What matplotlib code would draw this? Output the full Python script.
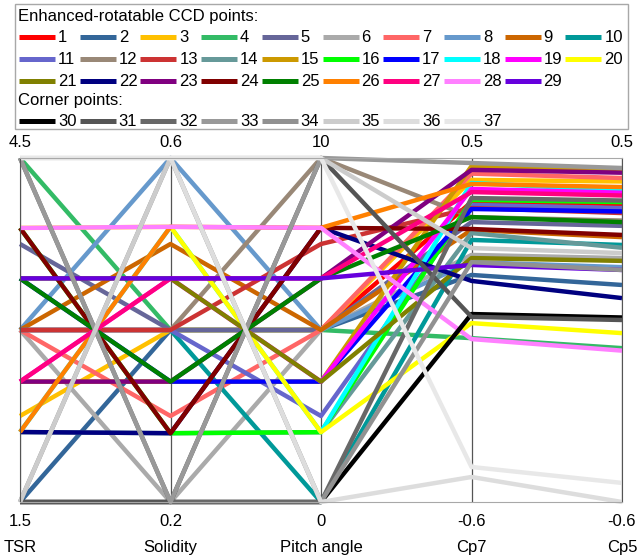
import matplotlib.pyplot as plt
from matplotlib.patches import Rectangle

plt.rcParams['font.family'] = ['Liberation Sans', 'DejaVu Sans']

axis_names = ['TSR', 'Solidity', 'Pitch angle', 'Cp7', 'Cp5']
axis_min = [1.5, 0.2, 0.0, -0.6, -0.6]
axis_max = [4.5, 0.6, 10.0, 0.5, 0.5]
min_labels = ['1.5', '0.2', '0', '-0.6', '-0.6']
max_labels = ['4.5', '0.6', '10', '0.5', '0.5']

# design points 1-29 (enhanced-rotatable CCD) and 30-37 (cube corners)
tsr = [3.0, 1.5, 2.25, 4.5, 3.75, 3.0, 3.0, 3.0, 3.0, 3.0, 3.0, 3.0, 3.0,
       2.11, 2.55, 3.89, 3.45, 2.11, 2.55, 3.89, 3.45,
       2.11, 2.55, 3.89, 3.45, 2.11, 2.55, 3.89, 3.45,
       1.5, 1.5, 4.5, 4.5, 1.5, 1.5, 4.5, 4.5]
solidity = [0.4, 0.4, 0.4, 0.4, 0.4, 0.2, 0.3, 0.6, 0.5, 0.4, 0.4, 0.4, 0.4,
            0.28, 0.34, 0.28, 0.34, 0.52, 0.46, 0.52, 0.46,
            0.28, 0.34, 0.28, 0.34, 0.52, 0.46, 0.52, 0.46,
            0.2, 0.2, 0.2, 0.2, 0.6, 0.6, 0.6, 0.6]
pitch = [5, 5, 5, 5, 5, 5, 5, 5, 5, 0, 2.5, 10, 7.5,
         2.03, 3.5, 2.03, 3.5, 2.03, 3.5, 2.03, 3.5,
         7.97, 6.5, 7.97, 6.5, 7.97, 6.5, 7.97, 6.5,
         0, 10, 0, 10, 0, 10, 0, 10]
cp7 = [0.359, 0.126, 0.430, -0.076, 0.295, 0.190, 0.450, 0.167, 0.270,
       0.238, 0.350, 0.311, 0.340, 0.260, 0.474, 0.366, 0.337, 0.420,
       0.401, -0.028, 0.180, 0.107, 0.462, 0.273, 0.311, 0.417, 0.391,
       -0.079, 0.158, 0.001, -0.008, 0.372, 0.484, 0.167, 0.212, -0.520,
       -0.488]
cp5 = [0.353, 0.094, 0.425, -0.108, 0.283, 0.180, 0.436, 0.151, 0.247,
       0.222, 0.340, 0.300, 0.324, 0.213, 0.462, 0.359, 0.329, 0.396,
       0.389, -0.060, 0.171, 0.052, 0.453, 0.254, 0.295, 0.407, 0.380,
       -0.116, 0.142, -0.010, -0.018, 0.364, 0.468, 0.142, 0.196, -0.600,
       -0.539]

colors = ['#ff0000', '#336699', '#ffc000', '#33bb66', '#666699', '#aaaaaa',
          '#ff6666', '#6699cc', '#cc6600', '#009999', '#6666cc', '#998877',
          '#cc3333', '#669999', '#cc9900', '#00ff00', '#0000ff', '#00ffff',
          '#ff00ff', '#ffff00', '#808000', '#000080', '#800080', '#800000',
          '#008000', '#ff8000', '#ff0080', '#ff80ff', '#6600dd',
          '#000000', '#555555', '#686868', '#999999', '#919191', '#cccccc',
          '#dddddd', '#e8e8e8']

columns = [tsr, solidity, pitch, cp7, cp5]
n_pts = len(tsr)
xs = list(range(len(axis_names)))
fs = 12

fig = plt.figure(figsize=(6.42, 5.6), dpi=100)
ax = fig.add_axes([20 / 642, 58 / 560, 602 / 642, 344 / 560])

for k in range(n_pts):
    ys = [(columns[j][k] - axis_min[j]) / (axis_max[j] - axis_min[j]) for j in xs]
    ax.plot(xs, ys, color=colors[k], lw=3.2, solid_capstyle='butt',
            clip_on=False, zorder=2 + k * 0.01)

for j in xs:
    ax.axvline(j, color='#555555', lw=0.9, zorder=1)
    ax.annotate(max_labels[j], (j, 1), xycoords=('data', 'axes fraction'),
                xytext=(0, 11.5), textcoords='offset points',
                ha='center', va='center', fontsize=fs)
    ax.annotate(min_labels[j], (j, 0), xycoords=('data', 'axes fraction'),
                xytext=(0, -14), textcoords='offset points',
                ha='center', va='center', fontsize=fs)
    ax.annotate(axis_names[j], (j, 0), xycoords=('data', 'axes fraction'),
                xytext=(0, -33), textcoords='offset points',
                ha='center', va='center', fontsize=fs)

ax.set_xlim(0, 4)
ax.set_ylim(0, 1)
ax.set_xticks([])
ax.set_yticks([])
for side in ['top', 'bottom']:
    ax.spines[side].set_color('#a8a8a8')
for side in ['left', 'right']:
    ax.spines[side].set_color('#555555')

# legend panel, drawn in pixel coordinates
lax = fig.add_axes([0, 0, 1, 1], zorder=-1)
lax.set_xlim(0, 642)
lax.set_ylim(560, 0)
lax.axis('off')
lax.add_patch(Rectangle((15, 4), 613, 125, fill=False, edgecolor='#a8a8a8', lw=1))
lax.text(18, 17, 'Enhanced-rotatable CCD points:', va='center', fontsize=fs)
lax.text(18, 101, 'Corner points:', va='center', fontsize=fs)
for k in range(n_pts):
    if k < 29:
        row, col = k // 10, k % 10
        y = 37 + row * 22
    else:
        col = k - 29
        y = 121
    x0 = 19 + col * 60.7
    lax.plot([x0, x0 + 36], [y, y], color=colors[k], lw=3.6, solid_capstyle='butt')
    lax.text(x0 + 39, y + 0.5, str(k + 1), va='center', fontsize=fs)

fig.savefig('out.png', dpi=100)
